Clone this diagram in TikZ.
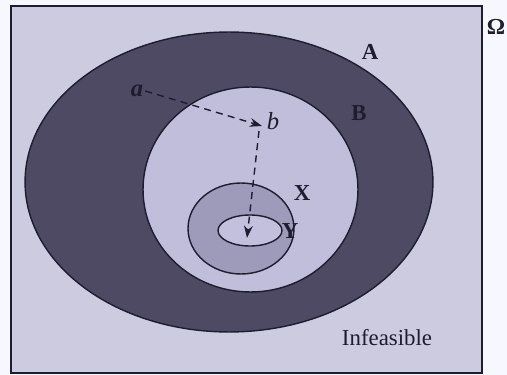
\documentclass[tikz,border=0pt]{standalone}
\usepackage{fontspec}
\setmainfont{Liberation Serif}
\usetikzlibrary{positioning,arrows.meta,shapes.geometric}
\colorlet{pagefill}{blue!3!white}
\definecolor{omegafill}{RGB}{204,203,224}
\definecolor{afill}{RGB}{78,74,100}
\definecolor{bfill}{RGB}{192,190,218}
\definecolor{xfill}{RGB}{158,154,186}
\definecolor{yfill}{RGB}{194,192,220}
\definecolor{inkbrd}{RGB}{30,28,48}

\begin{document}
\begin{tikzpicture}[
  x=0.02cm, y=-0.02cm,
  >={Stealth[length=7pt,width=5pt]},
  every node/.style={font=\fontsize{13}{15}\selectfont, text=inkbrd},
  region/.style ={ellipse, draw=inkbrd, line width=0.8pt, inner sep=0pt, outer sep=0pt},
  lbl/.style    ={inner sep=1pt, font=\fontsize{13}{15}\selectfont\bfseries},
  pt/.style     ={inner sep=1pt, font=\fontsize{14}{15}\selectfont\itshape},
  move/.style   ={->, thick, inkbrd, dash pattern=on 4pt off 3pt},
]
\useasboundingbox (0,0) rectangle (507,375);
\fill[pagefill] (0,0) rectangle (507,375);

%% ── Search space Omega ───────────────────────────────────────
\draw[fill=omegafill, draw=inkbrd, line width=0.9pt] (11,6) rectangle (482,373);
\node[lbl] (omega) at (496,27) {Ω};

%% ── Nested regions ──────────────────────────────────────────
\node[region, fill=afill, minimum width=8.16cm, minimum height=6.0cm] (setA) at (229,182) {};
\node[region, fill=bfill, minimum width=4.3cm,  minimum height=4.1cm] (setB) at (250.5,189.5) {};
\node[region, fill=xfill, minimum width=2.12cm, minimum height=1.82cm] (setX) at (241,228.5) {};
\node[region, fill=yfill, minimum width=1.28cm, minimum height=0.62cm] (setY) at (250,230.5) {};

\node[lbl] (labA) at (370,52)  {A};
\node[lbl] (labB) at (359,113) {B};
\node[lbl] (labX) at (302,193) {X};
\node[lbl] (labY) at (290,231) {Y};
\node (infeas) at (387,338) {Infeasible};

%% ── Search moves a -> b -> Y ─────────────────────────────────
\node[pt, font=\fontsize{14}{15}\selectfont\itshape\bfseries] (pa) at (137,91) {a};
\node[pt] (pb) at (273,121) {b};
\coordinate (ptb)  at (262,126);
\coordinate (ptb2) at (259,131);
\coordinate (pty)  at (247,238);

\draw[move] (pa.east) -- (ptb);
\draw[move] (ptb2) -- (pty);

\end{tikzpicture}
\end{document}
